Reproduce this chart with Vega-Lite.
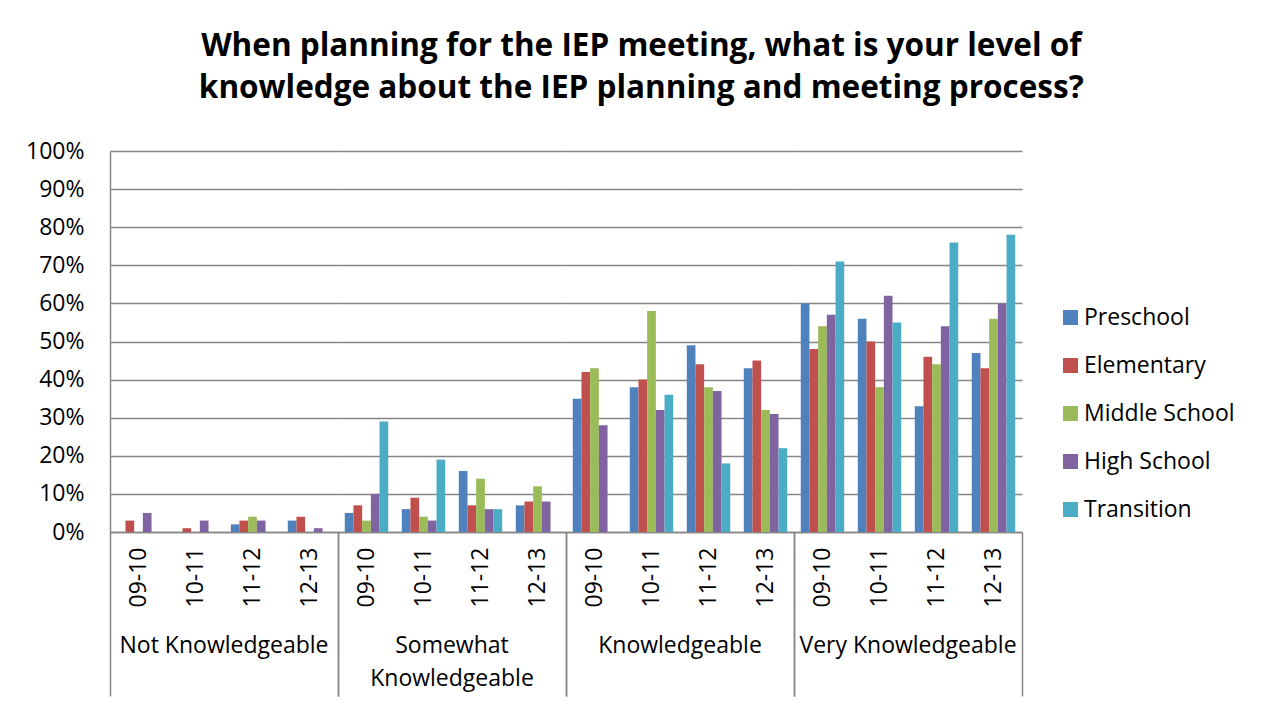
{
  "$schema": "https://vega.github.io/schema/vega-lite/v6.json",
  "background": "white",
  "padding": {"left": 25, "top": 30, "right": 5, "bottom": 5},
  "title": {
    "text": ["When planning for the IEP meeting, what is your level of", "knowledge about the IEP planning and meeting process?"],
    "font": "Open Sans", "fontSize": 31.5, "fontWeight": "bold", "color": "black",
    "anchor": "middle", "offset": 36, "lineHeight": 42, "dx": 11
  },
  "data": {"values": [
    {"cat": "Not Knowledgeable", "year": "09-10", "s": "Preschool", "v": 0},
    {"cat": "Not Knowledgeable", "year": "09-10", "s": "Elementary", "v": 0.03},
    {"cat": "Not Knowledgeable", "year": "09-10", "s": "Middle School", "v": 0},
    {"cat": "Not Knowledgeable", "year": "09-10", "s": "High School", "v": 0.05},
    {"cat": "Not Knowledgeable", "year": "09-10", "s": "Transition", "v": 0},
    {"cat": "Not Knowledgeable", "year": "10-11", "s": "Preschool", "v": 0},
    {"cat": "Not Knowledgeable", "year": "10-11", "s": "Elementary", "v": 0.01},
    {"cat": "Not Knowledgeable", "year": "10-11", "s": "Middle School", "v": 0},
    {"cat": "Not Knowledgeable", "year": "10-11", "s": "High School", "v": 0.03},
    {"cat": "Not Knowledgeable", "year": "10-11", "s": "Transition", "v": 0},
    {"cat": "Not Knowledgeable", "year": "11-12", "s": "Preschool", "v": 0.02},
    {"cat": "Not Knowledgeable", "year": "11-12", "s": "Elementary", "v": 0.03},
    {"cat": "Not Knowledgeable", "year": "11-12", "s": "Middle School", "v": 0.04},
    {"cat": "Not Knowledgeable", "year": "11-12", "s": "High School", "v": 0.03},
    {"cat": "Not Knowledgeable", "year": "11-12", "s": "Transition", "v": 0},
    {"cat": "Not Knowledgeable", "year": "12-13", "s": "Preschool", "v": 0.03},
    {"cat": "Not Knowledgeable", "year": "12-13", "s": "Elementary", "v": 0.04},
    {"cat": "Not Knowledgeable", "year": "12-13", "s": "Middle School", "v": 0},
    {"cat": "Not Knowledgeable", "year": "12-13", "s": "High School", "v": 0.01},
    {"cat": "Not Knowledgeable", "year": "12-13", "s": "Transition", "v": 0},
    {"cat": "Somewhat Knowledgeable", "year": "09-10", "s": "Preschool", "v": 0.05},
    {"cat": "Somewhat Knowledgeable", "year": "09-10", "s": "Elementary", "v": 0.07},
    {"cat": "Somewhat Knowledgeable", "year": "09-10", "s": "Middle School", "v": 0.03},
    {"cat": "Somewhat Knowledgeable", "year": "09-10", "s": "High School", "v": 0.10},
    {"cat": "Somewhat Knowledgeable", "year": "09-10", "s": "Transition", "v": 0.29},
    {"cat": "Somewhat Knowledgeable", "year": "10-11", "s": "Preschool", "v": 0.06},
    {"cat": "Somewhat Knowledgeable", "year": "10-11", "s": "Elementary", "v": 0.09},
    {"cat": "Somewhat Knowledgeable", "year": "10-11", "s": "Middle School", "v": 0.04},
    {"cat": "Somewhat Knowledgeable", "year": "10-11", "s": "High School", "v": 0.03},
    {"cat": "Somewhat Knowledgeable", "year": "10-11", "s": "Transition", "v": 0.19},
    {"cat": "Somewhat Knowledgeable", "year": "11-12", "s": "Preschool", "v": 0.16},
    {"cat": "Somewhat Knowledgeable", "year": "11-12", "s": "Elementary", "v": 0.07},
    {"cat": "Somewhat Knowledgeable", "year": "11-12", "s": "Middle School", "v": 0.14},
    {"cat": "Somewhat Knowledgeable", "year": "11-12", "s": "High School", "v": 0.06},
    {"cat": "Somewhat Knowledgeable", "year": "11-12", "s": "Transition", "v": 0.06},
    {"cat": "Somewhat Knowledgeable", "year": "12-13", "s": "Preschool", "v": 0.07},
    {"cat": "Somewhat Knowledgeable", "year": "12-13", "s": "Elementary", "v": 0.08},
    {"cat": "Somewhat Knowledgeable", "year": "12-13", "s": "Middle School", "v": 0.12},
    {"cat": "Somewhat Knowledgeable", "year": "12-13", "s": "High School", "v": 0.08},
    {"cat": "Somewhat Knowledgeable", "year": "12-13", "s": "Transition", "v": 0},
    {"cat": "Knowledgeable", "year": "09-10", "s": "Preschool", "v": 0.35},
    {"cat": "Knowledgeable", "year": "09-10", "s": "Elementary", "v": 0.42},
    {"cat": "Knowledgeable", "year": "09-10", "s": "Middle School", "v": 0.43},
    {"cat": "Knowledgeable", "year": "09-10", "s": "High School", "v": 0.28},
    {"cat": "Knowledgeable", "year": "09-10", "s": "Transition", "v": 0},
    {"cat": "Knowledgeable", "year": "10-11", "s": "Preschool", "v": 0.38},
    {"cat": "Knowledgeable", "year": "10-11", "s": "Elementary", "v": 0.40},
    {"cat": "Knowledgeable", "year": "10-11", "s": "Middle School", "v": 0.58},
    {"cat": "Knowledgeable", "year": "10-11", "s": "High School", "v": 0.32},
    {"cat": "Knowledgeable", "year": "10-11", "s": "Transition", "v": 0.36},
    {"cat": "Knowledgeable", "year": "11-12", "s": "Preschool", "v": 0.49},
    {"cat": "Knowledgeable", "year": "11-12", "s": "Elementary", "v": 0.44},
    {"cat": "Knowledgeable", "year": "11-12", "s": "Middle School", "v": 0.38},
    {"cat": "Knowledgeable", "year": "11-12", "s": "High School", "v": 0.37},
    {"cat": "Knowledgeable", "year": "11-12", "s": "Transition", "v": 0.18},
    {"cat": "Knowledgeable", "year": "12-13", "s": "Preschool", "v": 0.43},
    {"cat": "Knowledgeable", "year": "12-13", "s": "Elementary", "v": 0.45},
    {"cat": "Knowledgeable", "year": "12-13", "s": "Middle School", "v": 0.32},
    {"cat": "Knowledgeable", "year": "12-13", "s": "High School", "v": 0.31},
    {"cat": "Knowledgeable", "year": "12-13", "s": "Transition", "v": 0.22},
    {"cat": "Very Knowledgeable", "year": "09-10", "s": "Preschool", "v": 0.60},
    {"cat": "Very Knowledgeable", "year": "09-10", "s": "Elementary", "v": 0.48},
    {"cat": "Very Knowledgeable", "year": "09-10", "s": "Middle School", "v": 0.54},
    {"cat": "Very Knowledgeable", "year": "09-10", "s": "High School", "v": 0.57},
    {"cat": "Very Knowledgeable", "year": "09-10", "s": "Transition", "v": 0.71},
    {"cat": "Very Knowledgeable", "year": "10-11", "s": "Preschool", "v": 0.56},
    {"cat": "Very Knowledgeable", "year": "10-11", "s": "Elementary", "v": 0.50},
    {"cat": "Very Knowledgeable", "year": "10-11", "s": "Middle School", "v": 0.38},
    {"cat": "Very Knowledgeable", "year": "10-11", "s": "High School", "v": 0.62},
    {"cat": "Very Knowledgeable", "year": "10-11", "s": "Transition", "v": 0.55},
    {"cat": "Very Knowledgeable", "year": "11-12", "s": "Preschool", "v": 0.33},
    {"cat": "Very Knowledgeable", "year": "11-12", "s": "Elementary", "v": 0.46},
    {"cat": "Very Knowledgeable", "year": "11-12", "s": "Middle School", "v": 0.44},
    {"cat": "Very Knowledgeable", "year": "11-12", "s": "High School", "v": 0.54},
    {"cat": "Very Knowledgeable", "year": "11-12", "s": "Transition", "v": 0.76},
    {"cat": "Very Knowledgeable", "year": "12-13", "s": "Preschool", "v": 0.47},
    {"cat": "Very Knowledgeable", "year": "12-13", "s": "Elementary", "v": 0.43},
    {"cat": "Very Knowledgeable", "year": "12-13", "s": "Middle School", "v": 0.56},
    {"cat": "Very Knowledgeable", "year": "12-13", "s": "High School", "v": 0.60},
    {"cat": "Very Knowledgeable", "year": "12-13", "s": "Transition", "v": 0.78}
  ]},
  "facet": {
    "column": {
      "field": "cat", "type": "nominal",
      "sort": ["Not Knowledgeable", "Somewhat Knowledgeable", "Knowledgeable", "Very Knowledgeable"],
      "title": null,
      "header": {
        "labelOrient": "bottom", "labelFont": "Open Sans", "labelFontSize": 23, "labelColor": "black",
        "labelPadding": -62, "labelBaseline": "top", "labelLineHeight": 33,
        "labelExpr": "datum.value == 'Somewhat Knowledgeable' ? ['Somewhat', 'Knowledgeable'] : datum.value"
      }
    }
  },
  "spacing": 0,
  "spec": {
    "width": 228,
    "height": 381,
    "mark": {"type": "bar"},
    "encoding": {
      "x": {
        "field": "year", "type": "nominal", "title": null,
        "scale": {"paddingInner": 0, "paddingOuter": 0},
        "axis": {
          "labelAngle": -90, "tickBand": "extent", "tickSize": 164, "tickColor": "#868686", "tickWidth": 1.5,
          "tickOpacity": {"condition": {"test": "datum.value == '12-13' || datum.extra", "value": 1}, "value": 0},
          "labelPadding": -149, "labelFontSize": 23, "labelFont": "Open Sans", "labelColor": "black",
          "domainColor": "#868686", "domainWidth": 1.5
        }
      },
      "xOffset": {
        "field": "s", "type": "nominal",
        "sort": ["Preschool", "Elementary", "Middle School", "High School", "Transition"],
        "scale": {"paddingInner": 0, "paddingOuter": 0.78}
      },
      "y": {
        "field": "v", "type": "quantitative", "title": null,
        "scale": {"domain": [0, 1]},
        "axis": {"values": [0, 0.1, 0.2, 0.3, 0.4, 0.5, 0.6, 0.7, 0.8, 0.9, 1], "format": ".0%", "ticks": false, "labelPadding": 26, "labelFontSize": 23, "labelFont": "Open Sans", "labelColor": "black", "domainColor": "#868686", "domainWidth": 1.5, "gridColor": "#868686", "gridWidth": 1.5}
      },
      "color": {
        "field": "s", "type": "nominal",
        "scale": {"domain": ["Preschool", "Elementary", "Middle School", "High School", "Transition"], "range": ["#4F81BD", "#C0504D", "#9BBB59", "#8064A2", "#4BACC6"]},
        "legend": {"title": null, "orient": "none", "legendX": 949, "legendY": 155, "labelFont": "Open Sans", "labelFontSize": 23, "labelColor": "black", "symbolType": "square", "symbolSize": 225, "symbolStrokeWidth": 0, "rowPadding": 24, "labelOffset": 2}
      }
    }
  },
  "config": {
    "view": {"stroke": null}
  }
}
